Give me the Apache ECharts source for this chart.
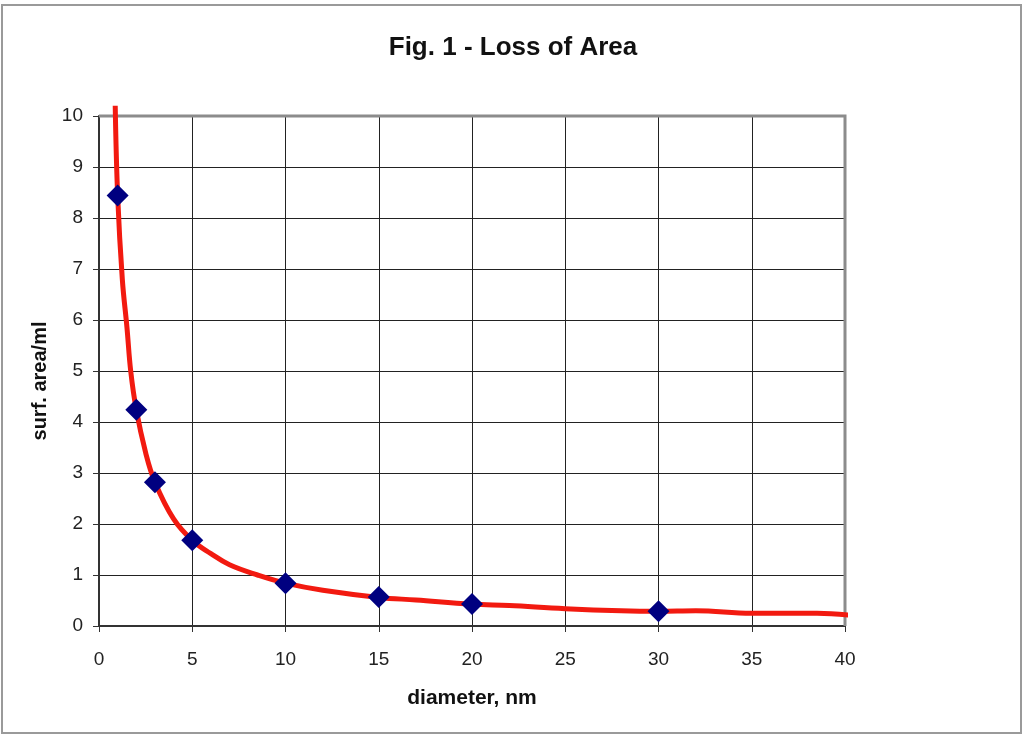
<!DOCTYPE html>
<html>
<head>
<meta charset="utf-8">
<script src="https://cdn.jsdelivr.net/npm/echarts@6/dist/echarts.min.js"></script>
<style>
html,body{margin:0;padding:0;background:#fff;}
#chart{width:1024px;height:736px;}
</style>
</head>
<body>
<div id="chart"></div>
<script>
// Measured points (diameter nm, surface area/ml)
const pointX = [1, 2, 3, 5, 10, 15, 20, 30];
const pointY = [8.44, 4.24, 2.82, 1.68, 0.84, 0.57, 0.43, 0.29];
// Red fitted curve
const curveX = [0.87, 1, 1.25, 1.5, 1.7, 2, 2.5, 3, 4, 5, 6, 7, 8.5, 10, 12, 15, 17, 20, 22, 25, 28, 30, 32, 35, 38.5, 40.6];
const curveY = [10.2, 8.44, 6.8, 5.85, 5.0, 4.24, 3.4, 2.82, 2.1, 1.68, 1.42, 1.2, 1.0, 0.84, 0.7, 0.56, 0.51, 0.43, 0.4, 0.34, 0.3, 0.29, 0.3, 0.25, 0.25, 0.2];
const xTicks = [0, 5, 10, 15, 20, 25, 30, 35, 40];
const yTicks = [0, 1, 2, 3, 4, 5, 6, 7, 8, 9, 10];

const chart = echarts.init(document.getElementById('chart'));
const font = 'Liberation Sans, Arial, sans-serif';
chart.setOption({
  animation: false,
  backgroundColor: '#fff',
  title: {
    text: 'Fig. 1 - Loss of Area',
    left: 508, top: 30, textAlign: 'center',
    textStyle: {fontFamily: font, fontSize: 26, fontWeight: 'bold', color: '#111'}
  },
  graphic: [
    {type: 'rect', shape: {x: 2, y: 5, width: 1019, height: 728},
     style: {fill: 'none', stroke: '#9a9a9a', lineWidth: 2}, silent: true, z: -1},
    {type: 'polyline', shape: {points: [[99, 116], [845, 116], [845, 626]]},
     style: {fill: 'none', stroke: '#8c8c8c', lineWidth: 3}, silent: true, z: 1}
  ],
  grid: {left: 99, right: 179, top: 116, bottom: 110, containLabel: false},
  xAxis: {
    type: 'value', min: xTicks[0], max: xTicks[xTicks.length - 1], interval: 5,
    name: 'diameter, nm', nameLocation: 'middle', nameGap: 62,
    nameTextStyle: {fontFamily: font, fontSize: 21, fontWeight: 'bold', color: '#111'},
    axisLine: {show: true, lineStyle: {color: '#333', width: 2}},
    axisTick: {show: true, length: 6, lineStyle: {color: '#333', width: 1}},
    axisLabel: {fontFamily: font, fontSize: 19, color: '#222', margin: 24},
    splitLine: {show: true, lineStyle: {color: '#222', width: 1}}
  },
  yAxis: {
    type: 'value', min: yTicks[0], max: yTicks[yTicks.length - 1], interval: 1,
    name: 'surf. area/ml', nameLocation: 'middle', nameGap: 46, nameRotate: 90,
    nameTextStyle: {fontFamily: font, fontSize: 20, fontWeight: 'bold', color: '#111', padding: [0, 20, 0, 0]},
    axisLine: {show: true, lineStyle: {color: '#333', width: 2}},
    axisTick: {show: true, length: 6, lineStyle: {color: '#333', width: 1}},
    axisLabel: {fontFamily: font, fontSize: 19, color: '#222', margin: 16},
    splitLine: {show: true, lineStyle: {color: '#222', width: 1}}
  },
  series: [
    {
      type: 'line', smooth: 0.4, clip: false, showSymbol: false, symbol: 'none',
      data: curveX.map((x, i) => [x, curveY[i]]),
      lineStyle: {color: '#f21a10', width: 5}, z: 3
    },
    {
      type: 'scatter', symbol: 'diamond', symbolSize: [22, 22], clip: false,
      data: pointX.map((x, i) => [x, pointY[i]]),
      itemStyle: {color: '#000080', opacity: 1}, z: 4
    }
  ]
});
</script>
</body>
</html>
